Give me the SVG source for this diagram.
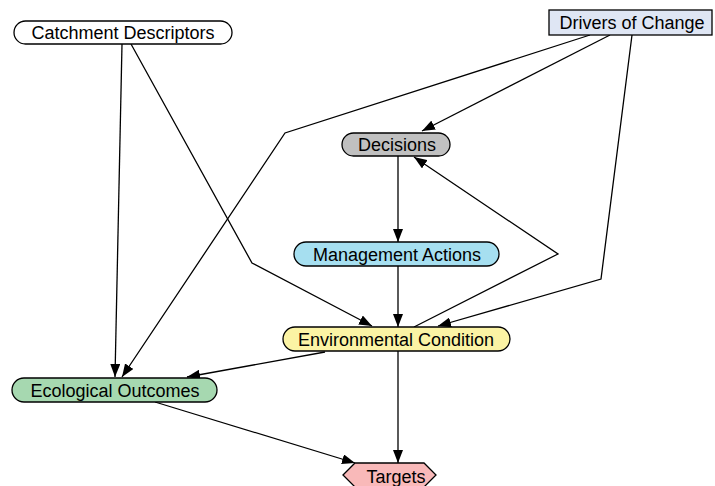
<svg xmlns="http://www.w3.org/2000/svg" width="715" height="486" viewBox="0 0 715 486">
<style>
.n{stroke:#000;stroke-width:1.3}
.t{font-family:"Liberation Sans",Arial,sans-serif;font-size:18px;fill:#000;text-anchor:middle}
.e{fill:none;stroke:#000;stroke-width:1.3;marker-end:url(#ah)}
</style>
<defs>
<marker id="ah" markerUnits="userSpaceOnUse" markerWidth="13" markerHeight="10" refX="13" refY="5" orient="auto">
<path d="M0,0 L13,5 L0,10 z" fill="#000"/>
</marker>
</defs>
<rect width="715" height="486" fill="#fff"/>
<g id="connectors">
<path class="e" d="M122,44 L115,377"/>
<path class="e" d="M131,44 L252,263 L372,326"/>
<path class="e" d="M590,35 L285,133 L122,377"/>
<path class="e" d="M610,35 L422,131"/>
<path class="e" d="M632,35 L601,279 L438,326"/>
<path class="e" d="M414,327 L558,254 L414,157"/>
<path class="e" d="M398,156 L398,242"/>
<path class="e" d="M398,266 L398,327"/>
<path class="e" d="M325,352 L187,377"/>
<path class="e" d="M398,351 L398,463"/>
<path class="e" d="M155,402 L355,463"/>
</g>
<g id="catchment">
<rect class="n" x="14" y="21" width="218" height="23" rx="11.5" fill="#fff"/>
<text class="t" x="123" y="39">Catchment Descriptors</text>
</g>
<g id="drivers">
<rect class="n" x="549" y="10" width="163" height="25" fill="#dfe6f4"/>
<text class="t" x="632" y="29">Drivers of Change</text>
</g>
<g id="decisions">
<rect class="n" x="342" y="133" width="108" height="23" rx="11.5" fill="#c0c0c0"/>
<text class="t" x="397" y="151">Decisions</text>
</g>
<g id="management">
<rect class="n" x="294" y="242" width="205" height="24" rx="12" fill="#a6dff0"/>
<text class="t" x="397" y="261">Management Actions</text>
</g>
<g id="environmental">
<rect class="n" x="283" y="327" width="227" height="24" rx="12" fill="#fbf3a4"/>
<text class="t" x="396" y="346">Environmental Condition</text>
</g>
<g id="ecological">
<rect class="n" x="12" y="378" width="205" height="24" rx="12" fill="#a6d8b0"/>
<text class="t" x="115" y="397">Ecological Outcomes</text>
</g>
<g id="targets">
<polygon class="n" points="343,475 355,463 424,463 436,475 424,487 355,487" fill="#f9b9b9"/>
<text class="t" x="396" y="483">Targets</text>
</g>
</svg>
